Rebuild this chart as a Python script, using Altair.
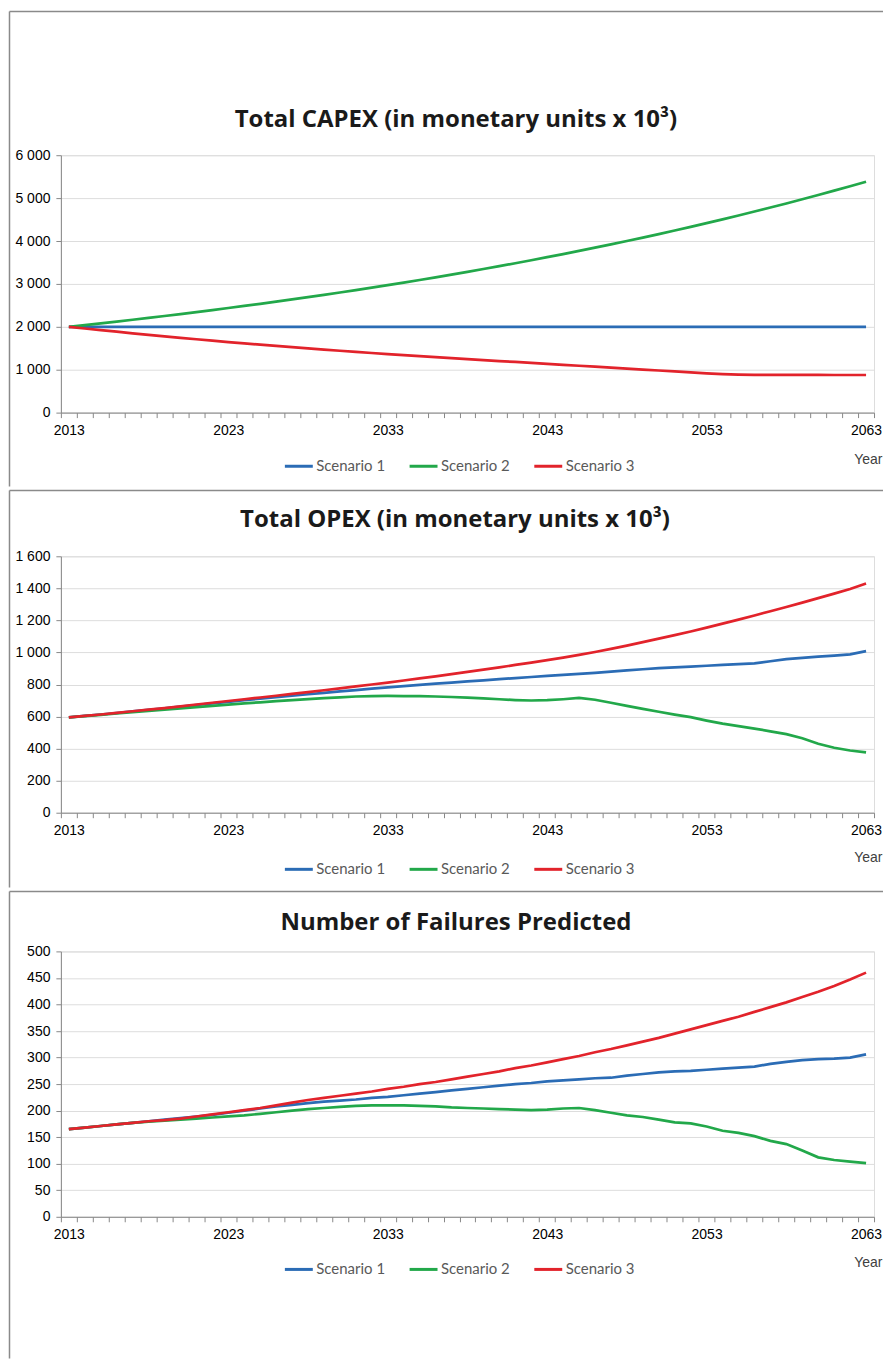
import altair as alt
import pandas as pd

years = list(range(2013, 2064))
scenarios = ["Scenario 1", "Scenario 2", "Scenario 3"]
colors = ["#2B6CB5", "#22A84A", "#E2232B"]
label_years = [2013, 2023, 2033, 2043, 2053, 2063]

capex_s1 = [2000] * 51
capex_s2 = [2000, 2040, 2081, 2122, 2165, 2208, 2252, 2297, 2343, 2390,
            2438, 2487, 2536, 2587, 2639, 2692, 2745, 2800, 2856, 2913,
            2972, 3031, 3092, 3154, 3217, 3281, 3347, 3414, 3482, 3552,
            3623, 3695, 3769, 3845, 3921, 4000, 4080, 4161, 4245, 4330,
            4416, 4505, 4595, 4687, 4780, 4876, 4973, 5073, 5174, 5278,
            5383]
capex_s3 = [2000, 1961, 1923, 1886, 1849, 1813, 1778, 1744, 1710, 1677,
            1645, 1614, 1584, 1554, 1525, 1497, 1469, 1442, 1416, 1390,
            1365, 1340, 1316, 1292, 1269, 1246, 1224, 1202, 1181, 1160,
            1138, 1115, 1092, 1070, 1048, 1026, 1004, 982, 960, 938,
            916, 898, 887, 882, 880, 879, 878, 878, 877, 877,
            877]

opex_s1 = [595, 604, 613, 622, 632, 642, 652, 662, 672, 682,
           692, 702, 712, 721, 730, 739, 748, 757, 765, 774,
           782, 790, 798, 805, 812, 819, 826, 833, 840, 847,
           854, 860, 866, 872, 880, 888, 895, 902, 907, 912,
           917, 922, 927, 932, 945, 958, 966, 974, 980, 988,
           1008]
opex_s2 = [595, 603, 611, 619, 627, 635, 643, 651, 659, 667,
           675, 682, 689, 696, 703, 709, 715, 720, 725, 728,
           729, 728, 727, 725, 722, 718, 713, 708, 703, 700,
           702, 708, 716, 705, 686, 667, 648, 630, 612, 596,
           575, 556, 540, 525, 508, 490, 465, 430, 405, 388,
           376]
opex_s3 = [595, 604, 613, 623, 633, 643, 653, 664, 675, 686,
           697, 708, 719, 730, 741, 752, 764, 776, 788, 800,
           812, 825, 838, 851, 865, 879, 893, 907, 922, 937,
           952, 968, 985, 1003, 1022, 1043, 1064, 1086, 1108, 1131,
           1155, 1180, 1205, 1231, 1257, 1284, 1311, 1339, 1367, 1396,
           1430]

fail_s1 = [165, 168, 171, 174, 177, 180, 183, 186, 189, 192,
           196, 200, 204, 208, 211, 214, 217, 219, 221, 224,
           226, 229, 232, 235, 238, 241, 244, 247, 250, 252,
           255, 257, 259, 261, 262, 266, 269, 272, 274, 275,
           277, 279, 281, 283, 288, 292, 295, 297, 298, 300,
           306]
fail_s2 = [165, 168, 171, 174, 177, 179, 181, 183, 185, 187,
           189, 191, 194, 197, 200, 203, 205, 207, 209, 210,
           210, 210, 209, 208, 206, 205, 204, 203, 202, 201,
           202, 204, 205, 201, 196, 191, 188, 183, 178, 176,
           170, 162, 158, 152, 143, 137, 125, 112, 107, 104,
           101]
fail_s3 = [165, 168, 171, 174, 177, 180, 182, 185, 189, 193,
           197, 201, 205, 210, 215, 220, 224, 228, 232, 236,
           241, 245, 250, 254, 259, 264, 269, 274, 280, 285,
           291, 297, 303, 310, 316, 323, 330, 337, 345, 353,
           361, 369, 377, 386, 395, 404, 414, 424, 435, 447,
           460]

FONT = "Lato"
TITLE_FONT = "Open Sans"
FRAME = "#8A8A8A"
W = 815
LEFT = -51.5
RIGHT = 824


def long_df(series):
    rows = []
    for name, vals in zip(scenarios, series):
        for yr, v in zip(years, vals):
            rows.append({"year": yr, "value": v, "scenario": name})
    return pd.DataFrame(rows)


x_values = sorted([y - 0.5 for y in years] + [years[-1] + 0.5] + label_years)


def panel(series, title, ymax, ystep, height, top_rel, bottom_rel,
          title_x, title_y, legend_x, legend_y, year_y):
    df = long_df(series)
    x = alt.X(
        "year:Q",
        scale=alt.Scale(domain=[2012.5, 2063.5], nice=False, zero=False),
        axis=alt.Axis(
            values=x_values,
            labelExpr="datum.value % 1 === 0 ? format(datum.value, 'd') : ''",
            tickOpacity={"condition": {"test": "datum.value % 1 !== 0", "value": 1}, "value": 0},
            tickSize=5,
            labelPadding=6,
            labelOverlap=False,
            labelFlush=False,
            labelBound=False,
            labelFontSize=14,
            grid=False,
            title="Year",
            titleX=W + 8,
            titleY=year_y,
            titleAlign="right",
            titleBaseline="alphabetic",
            titleFontWeight="normal",
            titleFontSize=14,
            titleColor="#404040",
        ),
    )
    y = alt.Y(
        "value:Q",
        scale=alt.Scale(domain=[0, ymax], nice=False),
        axis=alt.Axis(
            values=list(range(0, ymax + 1, ystep)),
            labelExpr="replace(format(datum.value, ','), ',', ' ')",
            tickSize=5,
            labelPadding=6,
            labelFontSize=14,
            title=None,
            grid=True,
        ),
    )
    lines = alt.Chart(df).mark_line(strokeWidth=2.7).encode(
        x=x,
        y=y,
        color=alt.Color(
            "scenario:N",
            scale=alt.Scale(domain=scenarios, range=colors),
            legend=alt.Legend(
                orient="none",
                legendX=legend_x,
                legendY=legend_y,
                padding=0,
                direction="horizontal",
                title=None,
                symbolType="stroke",
                symbolStrokeWidth=3,
                symbolSize=784,
                labelOffset=2,
                columnPadding=18,
                labelFontSize=15,
                labelColor="#595959",
                labelFont=FONT,
            ),
        ),
    )
    one = alt.InlineData(values=[{}])
    hline = alt.Chart(one).mark_rule(color=FRAME, strokeWidth=1.5).encode(
        x=alt.value(LEFT), x2=alt.value(RIGHT), y=alt.value(top_rel)
    )
    vline = alt.Chart(one).mark_rule(color=FRAME, strokeWidth=1.5).encode(
        x=alt.value(LEFT), y=alt.value(top_rel), y2=alt.value(bottom_rel)
    )
    heading = alt.Chart(one).mark_text(
        font=TITLE_FONT, fontSize=24, fontWeight="bold", color="#1A1A1A",
        align="center", baseline="alphabetic",
    ).encode(x=alt.value(title_x), y=alt.value(title_y), text=alt.value(title))
    return alt.layer(hline, vline, heading, lines).properties(width=W, height=height)


p1 = panel([capex_s1, capex_s2, capex_s3], "Total CAPEX (in monetary units x 10³)",
           6000, 1000, 258, -144, 332, 396, -28, 223, 296, 51)
p2 = panel([opex_s1, opex_s2, opex_s3], "Total OPEX (in monetary units x 10³)",
           1600, 200, 257, -66, 332, 395, -29, 223, 298, 49)
p3 = panel([fail_s1, fail_s2, fail_s3], "Number of Failures Predicted",
           500, 50, 266, -60, 408, 396, -21, 223, 303, 50)

chart = (
    alt.vconcat(p1, p2, p3, spacing=0)
    .resolve_scale(color="independent", x="independent", y="independent")
    .resolve_legend(color="independent")
    .properties(padding=0)
    .configure_view(stroke=None)
    .configure_axis(
        domainColor="#8C8C8C",
        domainWidth=1.5,
        tickColor="#8C8C8C",
        tickWidth=1.2,
        gridColor="#969696",
        gridWidth=1.8,
        labelFont=FONT,
        titleFont=FONT,
        labelColor="#555555",
    )
    .configure(background="white")
)

chart.save("out.html", embed_options={"renderer": "svg", "actions": False})
